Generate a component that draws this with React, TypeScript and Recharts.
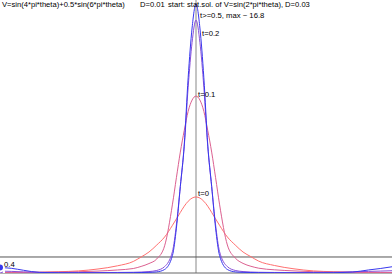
import { LineChart, Line, XAxis, YAxis, ReferenceLine, ReferenceDot } from 'recharts';

// theta grid (denser around the peak at 0.5)
const theta = [
  0, 0.03, 0.06, 0.1, 0.15, 0.2, 0.25, 0.3, 0.34, 0.36, 0.38, 0.4, 0.42, 0.44,
  0.45, 0.46, 0.47, 0.48, 0.49, 0.5, 0.51, 0.52, 0.53, 0.54, 0.55,
  0.56, 0.58, 0.6, 0.62, 0.64, 0.66, 0.7, 0.75, 0.8, 0.85, 0.9, 0.94, 0.97, 1,
];

// densities
const pT0 = [
  0.03, 0.035, 0.04, 0.05, 0.08, 0.13, 0.25, 0.45, 0.72, 1.0, 1.31, 1.75, 2.25, 2.98,
  3.38, 3.78, 4.17, 4.48, 4.68, 4.75, 4.68, 4.48, 4.17, 3.78, 3.38,
  2.98, 2.25, 1.75, 1.31, 1.02, 0.74, 0.47, 0.26, 0.13, 0.08, 0.05, 0.04, 0.035, 0.03,
];
const pT01 = [
  0.03, 0.03, 0.035, 0.04, 0.06, 0.08, 0.12, 0.19, 0.28, 0.41, 0.59, 0.88, 1.7, 4.3,
  5.95, 7.55, 8.9, 10.1, 10.8, 11.05, 10.8, 10.1, 8.9, 7.55, 5.95,
  4.3, 1.75, 0.94, 0.6, 0.42, 0.3, 0.2, 0.13, 0.08, 0.06, 0.04, 0.035, 0.03, 0.03,
];
const pT02 = [
  0.12, 0.1, 0.07, 0.04, 0.03, 0.03, 0.03, 0.035, 0.045, 0.06, 0.09, 0.16, 0.4, 1.35,
  3.0, 5.4, 7.9, 11.6, 14.4, 15.8, 14.4, 11.6, 7.9, 5.4, 3.0,
  1.35, 0.4, 0.16, 0.09, 0.06, 0.045, 0.035, 0.03, 0.03, 0.04, 0.07, 0.1, 0.12, 0.14,
];
const pT05 = [
  0.34, 0.29, 0.17, 0.04, 0.015, 0.01, 0.01, 0.015, 0.02, 0.03, 0.04, 0.07, 0.22, 1.1,
  2.8, 5.4, 8.0, 12.2, 15.3, 16.8, 15.3, 12.2, 8.0, 5.4, 2.8,
  1.1, 0.22, 0.07, 0.04, 0.03, 0.02, 0.015, 0.01, 0.01, 0.02, 0.06, 0.19, 0.28, 0.39,
];

const data = theta.map((t, i) => ({
  theta: t, t0: pT0[i], t01: pT01[i], t02: pT02[i], t05: pT05[i],
}));

const FONT = "'Liberation Sans', Arial, Helvetica, sans-serif";

const lbl = (value: string, offset: number) => ({
  value, position: 'right' as const, offset, fontSize: 7.7, fill: '#000', fontFamily: FONT,
});

export default function App() {
  return (
    <div style={{ position: 'absolute', left: 0, top: 0, width: 392, height: 275, background: '#fff' }}>
      <LineChart width={392} height={275} data={data} margin={{ top: 0, right: 0, left: 0, bottom: 2 }}>
        <XAxis type="number" dataKey="theta" domain={[0, 1]} hide />
        <YAxis type="number" domain={[0, 17.05]} allowDataOverflow hide />
        <ReferenceLine x={0.5} stroke="#888" strokeWidth={1} />
        <ReferenceLine y={1} stroke="#555" strokeWidth={1} />
        <ReferenceLine y={0} stroke="#666" strokeWidth={1} />
        <Line type="monotone" dataKey="t0" stroke="#ff7070" strokeWidth={1} dot={false} isAnimationActive={false} />
        <Line type="monotone" dataKey="t01" stroke="#dc6090" strokeWidth={1} dot={false} isAnimationActive={false} />
        <Line type="monotone" dataKey="t02" stroke="#8a50d8" strokeWidth={1} dot={false} isAnimationActive={false} />
        <Line type="monotone" dataKey="t05" stroke="#3838ee" strokeWidth={1} dot={false} isAnimationActive={false} />
        <ReferenceDot x={0.5} y={16.11} r={0} fill="none" stroke="none" label={lbl('t>=0.5, max ~ 16.8', 4)} />
        <ReferenceDot x={0.5} y={14.99} r={0} fill="none" stroke="none" label={lbl('t=0.2', 6)} />
        <ReferenceDot x={0.5} y={11.18} r={0} fill="none" stroke="none" label={lbl('t=0.1', 2)} />
        <ReferenceDot x={0.5} y={5.0} r={0} fill="none" stroke="none" label={lbl('t=0', 2)} />
        <ReferenceDot x={0} y={0.56} r={0} fill="none" stroke="none" label={lbl('0.4', 4)} />
      </LineChart>
      <div style={{ position: 'absolute', top: 0, left: 0, fontFamily: FONT, fontSize: 7.6, lineHeight: '10px', whiteSpace: 'pre', color: '#000' }}>
        <span style={{ position: 'absolute', left: 2 }}>V=sin(4*pi*theta)+0.5*sin(6*pi*theta)</span>
        <span style={{ position: 'absolute', left: 140 }}>D=0.01</span>
        <span style={{ position: 'absolute', left: 168 }}>start: stat.sol. of V=sin(2*pi*theta), D=0.03</span>
      </div>
    </div>
  );
}
